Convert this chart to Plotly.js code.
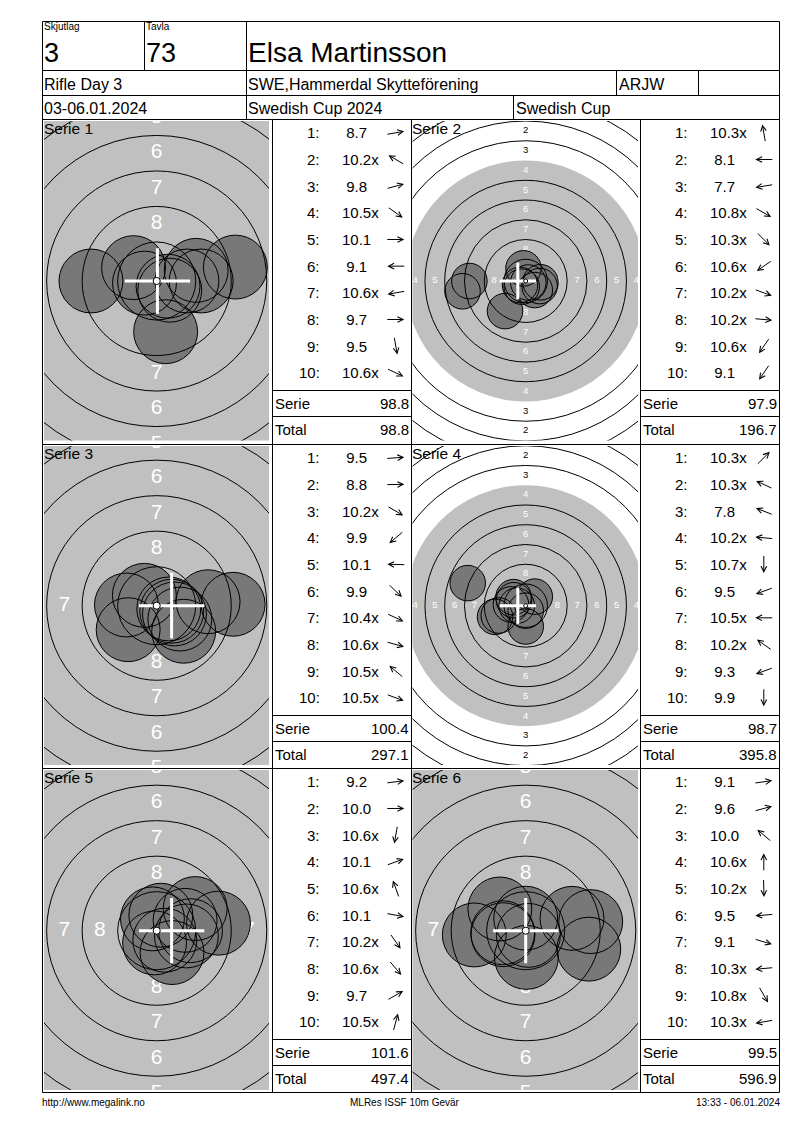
<!DOCTYPE html>
<html><head><meta charset="utf-8">
<script src="https://cdn.plot.ly/plotly-3.0.1.min.js"></script>
<style>html,body{margin:0;padding:0;background:#fff}#chart{width:800px;height:1130px}</style>
</head><body><div id="chart"></div>
<script>
// ---------------- DATA ----------------
const seriesLabels = ['Serie 1','Serie 2','Serie 3','Serie 4','Serie 5','Serie 6'];
const scoresS1 = [8.7,10.2,9.8,10.5,10.1,9.1,10.6,9.7,9.5,10.6];
const scoresS2 = [10.3,8.1,7.7,10.8,10.3,10.6,10.2,10.2,10.6,9.1];
const scoresS3 = [9.5,8.8,10.2,9.9,10.1,9.9,10.4,10.6,10.5,10.5];
const scoresS4 = [10.3,10.3,7.8,10.2,10.7,9.5,10.5,10.2,9.3,9.9];
const scoresS5 = [9.2,10.0,10.6,10.1,10.6,10.1,10.2,10.6,9.7,10.5];
const scoresS6 = [9.1,9.6,10.0,10.6,10.2,9.5,9.1,10.3,10.8,10.3];
// shot centres in mm from target centre (x right, y up)
const xS1 = [5.54,-1.63,2.78,0.92,2.13,-4.63,-0.86,3.13,0.63,0.80];
const yS1 = [0.98,0.94,0.75,-0.65,0.00,0.00,-0.15,0.00,-3.57,-0.37];
const xS2 = [-0.28,-7.13,-8.00,0.33,1.15,-0.72,1.76,1.87,-0.50,-2.62];
const yS2 = [1.60,0.00,-1.30,-0.19,-1.15,-0.50,-0.64,-0.16,-0.72,-3.81];
const xS3 = [3.62,5.38,1.63,-2.01,-2.13,1.90,1.25,0.85,-0.87,1.06];
const yS3 = [0.28,0.10,-0.94,-1.69,0.05,-1.80,-0.58,-0.23,0.73,-0.39];
const xS4 = [1.15,-1.48,-7.34,-1.87,0.00,-3.41,-1.13,-1.54,-3.88,0.00];
const yS4 = [1.15,0.69,2.86,0.16,-0.63,-1.24,0.00,1.08,-1.41,-2.63];
const xS5 = [4.35,2.38,-0.15,2.00,-0.30,2.09,1.08,0.57,2.71,0.29];
const yS5 = [0.53,0.00,-0.86,0.73,0.83,-0.37,-1.54,-0.67,1.56,1.09];
const xS6 = [4.58,3.26,-1.82,0.00,0.05,-3.62,4.44,-1.62,0.19,-1.60];
const yS6 = [0.64,0.87,1.53,0.88,-1.88,-0.30,-1.30,-0.14,-0.33,-0.28];
// crosshair (mm)
const crossX = [0.05,-1.0,1.05,-1.0,1.05,0.0];
const crossY = [0,0,0,0,0,0];
const serieSums = [98.8,97.9,100.4,98.7,101.6,99.5];
const runningTotals = [98.8,196.7,297.1,395.8,497.4,596.9];
const header = {shift:'3', target:'73', name:'Elsa Martinsson', event:'Rifle Day 3',
  club:'SWE,Hammerdal Skytteförening', cls:'ARJW', dates:'03-06.01.2024',
  comp:'Swedish Cup 2024', cup:'Swedish Cup'};
const footer = ['http://www.megalink.no','MLRes ISSF 10m Gevär','13:33 - 06.01.2024'];

const allScores = [scoresS1,scoresS2,scoresS3,scoresS4,scoresS5,scoresS6];
const allX = [xS1,xS2,xS3,xS4,xS5,xS6];
const allY = [yS1,yS2,yS3,yS4,yS5,yS6];

// ---------------- LAYOUT ----------------
const W = 800, H = 1130;
const PX = v => v / W, PY = v => 1 - v / H;
const FONT = 'Liberation Sans, Arial, sans-serif';

const COLS = [{x0:44,x1:269,cx:156.7,tl:272.5},{x0:412.5,x1:638,cx:525.7,tl:640.5}];
const ROWS = [{top:119.5,y0:121,y1:440.5,cy:281},{top:444.5,y0:446,y1:765,cy:605.7},{top:768.5,y0:770,y1:1090,cy:930.7}];
const BOTTOM = 1092.5, LEFT = 42.5, RIGHT = 779.5, TOP = 21.5;
const VIEW_SCALE = [14.2,7.9,14.2,7.9,14.2,14.2];
const RING_R = n => 0.25 + (10 - n) * 2.5;
const SHOT_R = 2.25, CROSS_HALF = 2.3;

const layout = {width:W,height:H,margin:{l:0,r:0,t:0,b:0},paper_bgcolor:'#ffffff',plot_bgcolor:'#ffffff',
  showlegend:false,shapes:[],annotations:[],hovermode:false};
const data = [];

function line(x0,y0,x1,y1){
  layout.shapes.push({type:'line',xref:'paper',yref:'paper',x0:PX(x0),x1:PX(x1),y0:PY(y0),y1:PY(y1),line:{color:'#000',width:1},layer:'above'});
}
function ann(text,x,y,anchor,size){
  layout.annotations.push({text:text,x:PX(x),y:PY(y),xref:'paper',yref:'paper',showarrow:false,
    xanchor:anchor,yanchor:'middle',borderpad:0,borderwidth:0,
    font:{family:FONT,size:size,color:'#000'}});
}
function arrow(cx,cy,theta){
  const h = 8.5;
  const hx = cx + h*Math.cos(theta), hy = cy - h*Math.sin(theta);
  layout.annotations.push({text:'',x:PX(hx),y:PY(hy),xref:'paper',yref:'paper',showarrow:true,
    ax:-2*h*Math.cos(theta),ay:2*h*Math.sin(theta),axref:'pixel',ayref:'pixel',
    arrowhead:5,arrowsize:1.1,arrowwidth:1,arrowcolor:'#000',standoff:0,startstandoff:0,borderpad:0,borderwidth:0});
}
const fmt = v => v.toFixed(1);

// ---- targets and tables
for (let i = 0; i < 6; i++) {
  const c = COLS[i % 2], r = ROWS[Math.floor(i / 2)], k = VIEW_SCALE[i];
  const suf = i === 0 ? '' : String(i + 1);
  const xa = 'x' + suf, ya = 'y' + suf;
  const xr = [(c.x0-c.cx)/k,(c.x1-c.cx)/k], yr = [(r.cy-r.y1)/k,(r.cy-r.y0)/k];
  layout['xaxis' + suf] = {domain:[PX(c.x0),PX(c.x1)],range:xr,visible:false,fixedrange:true,anchor:ya};
  layout['yaxis' + suf] = {domain:[PY(r.y1),PY(r.y0)],range:yr,visible:false,fixedrange:true,anchor:xa};
  const circ = (cx,cy,rad,extra) => Object.assign({type:'circle',xref:xa,yref:ya,x0:cx-rad,x1:cx+rad,y0:cy-rad,y1:cy+rad},extra);

  // black (grey) area = ring 4
  layout.shapes.push(circ(0,0,RING_R(4),{fillcolor:'#c0c0c0',line:{width:0},layer:'below'}));

  // ring numbers (only those that fall inside the view)
  const fs = k > 10 ? 21 : 9.5;
  const pad = 0.45 * fs / k;
  const lx=[],ly=[],lt=[],lc=[];
  for (let n = 1; n <= 8; n++) {
    const rr = (RING_R(n) + RING_R(n + 1)) / 2;
    [[0,1],[0,-1],[-1,0],[1,0]].forEach(d => {
      const x = d[0]*rr, y = d[1]*rr;
      if (x < xr[0]-pad || x > xr[1]+pad || y < yr[0]-pad || y > yr[1]+pad) return;
      lx.push(x); ly.push(y); lt.push(String(n)); lc.push(n >= 4 ? '#ffffff' : '#000000');
    });
  }
  data.push({type:'scatter',mode:'text',x:lx,y:ly,text:lt,textposition:'middle center',
    textfont:{family:FONT,size:fs,color:lc},xaxis:xa,yaxis:ya,hoverinfo:'skip',cliponaxis:true});

  const xs = allX[i], ys = allY[i];
  // shot fills
  xs.forEach((x,j) => layout.shapes.push(circ(x,ys[j],SHOT_R,{fillcolor:'#787878',line:{width:0},layer:'above'})));
  // ring lines
  [1,2,3,5,6,7,8,9].forEach(n => layout.shapes.push(circ(0,0,RING_R(n),{fillcolor:'rgba(0,0,0,0)',line:{color:'#000',width:1},layer:'above'})));
  // shot outlines
  xs.forEach((x,j) => layout.shapes.push(circ(x,ys[j],SHOT_R,{fillcolor:'rgba(0,0,0,0)',line:{color:'#000',width:1},layer:'above'})));
  // crosshair
  layout.shapes.push({type:'line',xref:xa,yref:ya,x0:crossX[i]-CROSS_HALF,x1:crossX[i]+CROSS_HALF,y0:crossY[i],y1:crossY[i],line:{color:'#fff',width:3},layer:'above'});
  layout.shapes.push({type:'line',xref:xa,yref:ya,x0:crossX[i],x1:crossX[i],y0:crossY[i]-CROSS_HALF,y1:crossY[i]+CROSS_HALF,line:{color:'#fff',width:3},layer:'above'});
  // 10 dot
  layout.shapes.push(circ(0,0,RING_R(10),{fillcolor:'#ffffff',line:{color:'#000',width:1},layer:'above'}));

  // series label
  ann(seriesLabels[i], c.x0 - 0.5, r.top + 8.7, 'left', 15.5);

  // table
  const tl = c.tl;
  allScores[i].forEach((s,j) => {
    const yy = r.top + 13.3 + j * 26.67;
    ann((j+1) + ':', tl + 47.8, yy, 'right', 15);
    const txt = (s < 10 ? '\u00A0' : '') + fmt(s) + (s >= 10.2 ? 'x' : '');
    ann(txt, tl + 69.5, yy, 'left', 15);
    arrow(tl + 123.3, yy, Math.atan2(ys[j], xs[j]));
  });
  ann('Serie', tl + 2.5, r.top + 283.8, 'left', 15);
  ann(fmt(serieSums[i]), tl + 136.3, r.top + 283.8, 'right', 15);
  ann('Total', tl + 2.5, r.top + 309.7, 'left', 15);
  ann(fmt(runningTotals[i]), tl + 136.3, r.top + 309.7, 'right', 15);
  line(tl, r.top + 271, tl + 139, r.top + 271);
  line(tl, r.top + 297, tl + 139, r.top + 297);
}

// ---- grid
line(LEFT,TOP,RIGHT,TOP); line(LEFT,BOTTOM,RIGHT,BOTTOM);
line(LEFT,TOP,LEFT,BOTTOM); line(RIGHT,TOP,RIGHT,BOTTOM);
line(LEFT,70.5,RIGHT,70.5); line(LEFT,95.5,RIGHT,95.5);
ROWS.forEach(r => line(LEFT,r.top,RIGHT,r.top));
line(144.5,TOP,144.5,70.5); line(246.5,TOP,246.5,119.5);
line(616.5,70.5,616.5,95.5); line(698.5,70.5,698.5,95.5);
line(513.5,95.5,513.5,119.5);
[272.5,411.5,640.5].forEach(x => line(x,119.5,x,BOTTOM));

// ---- header text
ann('Skjutlag',44,27,'left',10);
ann(header.shift,44,52.5,'left',27);
ann('Tavla',146,27,'left',10);
ann(header.target,146,52.5,'left',27);
ann(header.name,248,52.2,'left',28);
ann(header.event,44,84.8,'left',16);
ann(header.club,248,84.8,'left',16);
ann(header.cls,618.5,84.8,'left',16);
ann(header.dates,44,108.5,'left',16);
ann(header.comp,248,108.5,'left',16);
ann(header.cup,515.5,108.5,'left',16);
// ---- footer
ann(footer[0],42,1102,'left',10);
ann(footer[1],405,1102,'center',10);
ann(footer[2],779.5,1102,'right',10);

Plotly.newPlot('chart', data, layout, {staticPlot:true,displayModeBar:false});
</script></body></html>
